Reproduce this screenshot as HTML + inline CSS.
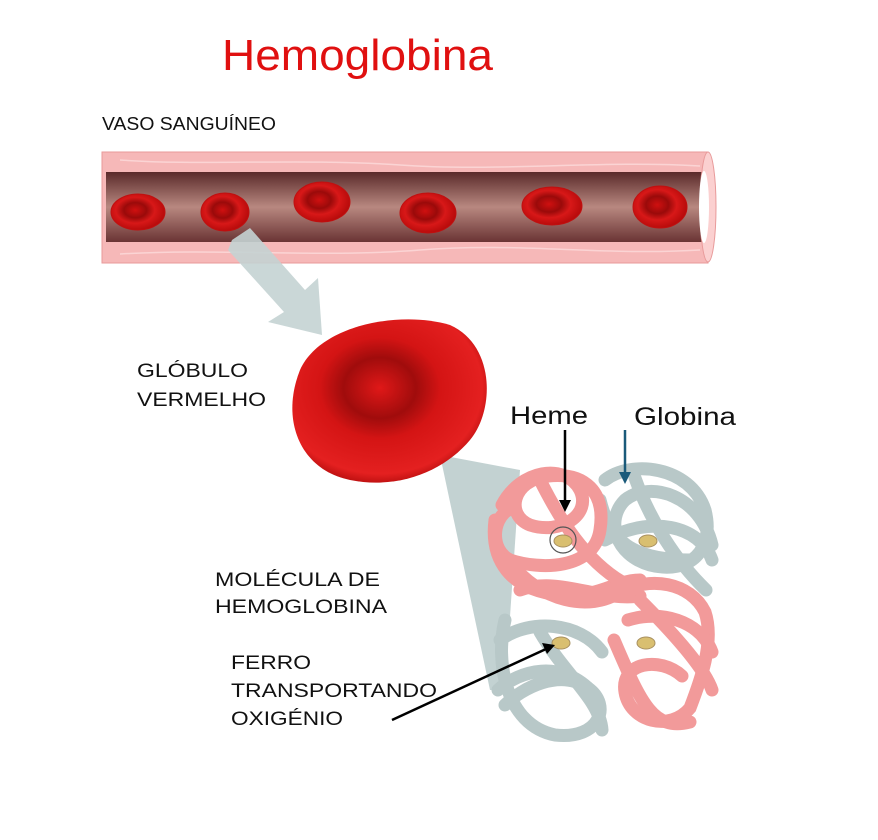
<!DOCTYPE html>
<html><head><meta charset="utf-8"><style>
body{margin:0;background:#fff;width:878px;height:840px;overflow:hidden}
svg{display:block}
text{font-family:"Liberation Sans",sans-serif}
</style></head><body>
<svg width="878" height="840" viewBox="0 0 878 840">
<defs>
<linearGradient id="lum" x1="0" y1="0" x2="0" y2="1">
<stop offset="0" stop-color="#5a2a2a"/><stop offset="0.5" stop-color="#b88880"/><stop offset="1" stop-color="#6a3434"/></linearGradient>
<radialGradient id="cell" cx="0.45" cy="0.45" r="0.6">
<stop offset="0" stop-color="#d01010"/><stop offset="0.35" stop-color="#9a0a0a"/><stop offset="0.6" stop-color="#d81818"/><stop offset="1" stop-color="#b00808"/></radialGradient>
<radialGradient id="big" cx="0.45" cy="0.42" r="0.62">
<stop offset="0" stop-color="#e01818"/><stop offset="0.3" stop-color="#a00c0c"/><stop offset="0.5" stop-color="#d41414"/><stop offset="0.85" stop-color="#e42020"/><stop offset="1" stop-color="#a80808"/></radialGradient>
</defs>
<text x="222" y="70" font-size="44" fill="#e01010" textLength="271" lengthAdjust="spacingAndGlyphs">Hemoglobina</text>
<text x="102" y="130" font-size="18" fill="#111" textLength="174" lengthAdjust="spacingAndGlyphs">VASO SANGUÍNEO</text>
<!-- vessel -->
<rect x="102" y="152" width="606" height="111" fill="#f6b8b8" stroke="#e89a9a"/>
<g stroke="#fbd4d4" stroke-width="1.5" fill="none">
<path d="M120,160 C200,166 300,158 400,165 S600,160 700,166"/>
<path d="M120,254 C220,248 320,258 420,250 S600,256 700,250"/>
</g>
<rect x="106" y="172" width="600" height="70" fill="url(#lum)"/>
<ellipse cx="708" cy="207" rx="8" ry="55" fill="#fbd0d0" stroke="#e89a9a"/>
<ellipse cx="704" cy="207" rx="5" ry="36" fill="#fff"/>
<g fill="url(#cell)" stroke="#c01010">
<ellipse cx="138" cy="212" rx="27" ry="18"/>
<ellipse cx="225" cy="212" rx="24" ry="19"/>
<ellipse cx="322" cy="202" rx="28" ry="20"/>
<ellipse cx="428" cy="213" rx="28" ry="20"/>
<ellipse cx="552" cy="206" rx="30" ry="19"/>
<ellipse cx="660" cy="207" rx="27" ry="21"/>
</g>
<!-- gray arrow -->
<polygon points="232,240 250,228 305,290 318,278 322,335 268,322 284,312 228,250" fill="#c4d3d3" opacity="0.9"/>
<!-- funnel -->
<polygon points="440,455 520,470 505,690 490,690" fill="#b9caca" opacity="0.85"/>
<!-- big rbc -->
<path d="M300,370 C320,325 400,310 450,325 C495,345 495,410 470,440 C445,470 400,490 350,480 C300,470 280,420 300,370Z" fill="url(#big)"/>
<text x="137" y="377" font-size="19" fill="#111" textLength="111" lengthAdjust="spacingAndGlyphs">GLÓBULO</text>
<text x="137" y="406" font-size="19" fill="#111" textLength="129" lengthAdjust="spacingAndGlyphs">VERMELHO</text>
<!-- molecule -->
<g fill="none" stroke-linecap="round" stroke-width="13">
<g stroke="#b8c8c8">
<path d="M605,480 C630,460 690,465 705,510 C715,550 690,575 650,565 C615,555 605,520 625,500 C650,480 700,495 712,545"/>
<path d="M605,540 C650,515 700,525 712,560 M635,478 C650,520 675,560 706,590"/>
<path d="M600,500 C610,540 630,560 690,560"/>
<path d="M505,620 C495,660 505,725 555,735 C600,740 612,705 588,688 C560,668 522,688 505,705"/>
<path d="M540,632 C565,675 600,700 602,730 M500,640 C530,618 580,622 602,652"/>
<path d="M498,690 C520,670 560,660 590,690"/>
</g>
<g stroke="#f29a9a">
<path d="M502,505 C520,470 565,462 580,490 C592,515 560,535 530,525 C505,515 512,480 548,476 C585,472 606,492 600,530 C594,570 540,570 510,560 C490,550 492,520 508,510"/>
<path d="M495,520 C490,560 510,590 560,595 C600,598 615,580 640,580"/>
<path d="M510,562 C540,602 590,612 620,592 C650,576 690,582 705,612 C715,642 700,682 690,708 C670,732 630,722 625,692 C620,662 660,656 682,676"/>
<path d="M520,590 C560,576 600,602 640,596 M628,620 C660,610 700,620 712,652 M614,640 C640,700 652,732 690,722"/>
<path d="M540,480 C560,520 585,560 622,582"/>
<path d="M640,600 C680,640 705,670 712,690"/>
</g>
</g>
<g fill="#d9bf70" stroke="#a89060"><ellipse cx="563" cy="541" rx="9" ry="6"/><ellipse cx="648" cy="541" rx="9" ry="6"/><ellipse cx="561" cy="643" rx="9" ry="6"/><ellipse cx="646" cy="643" rx="9" ry="6"/></g>
<circle cx="563" cy="540" r="13" fill="none" stroke="#555" stroke-width="1.2"/>
<!-- labels -->
<text x="510" y="424" font-size="25" fill="#111" textLength="78" lengthAdjust="spacingAndGlyphs">Heme</text>
<text x="634" y="425" font-size="25" fill="#111" textLength="102" lengthAdjust="spacingAndGlyphs">Globina</text>
<line x1="565" y1="430" x2="565" y2="502" stroke="#000" stroke-width="2.5"/>
<polygon points="559,500 571,500 565,512" fill="#000"/>
<line x1="625" y1="430" x2="625" y2="474" stroke="#1a5a7a" stroke-width="2.5"/>
<polygon points="619,472 631,472 625,484" fill="#1a5a7a"/>
<text x="215" y="586" font-size="19" fill="#111" textLength="165" lengthAdjust="spacingAndGlyphs">MOLÉCULA DE</text>
<text x="215" y="613" font-size="19" fill="#111" textLength="172" lengthAdjust="spacingAndGlyphs">HEMOGLOBINA</text>
<text x="231" y="669" font-size="19" fill="#111" textLength="80" lengthAdjust="spacingAndGlyphs">FERRO</text>
<text x="231" y="697" font-size="19" fill="#111" textLength="206" lengthAdjust="spacingAndGlyphs">TRANSPORTANDO</text>
<text x="231" y="725" font-size="19" fill="#111" textLength="112" lengthAdjust="spacingAndGlyphs">OXIGÉNIO</text>
<line x1="392" y1="720" x2="546" y2="649" stroke="#000" stroke-width="2.5"/>
<polygon points="555,645 542,643 547,654" fill="#000"/>
</svg>
</body></html>
